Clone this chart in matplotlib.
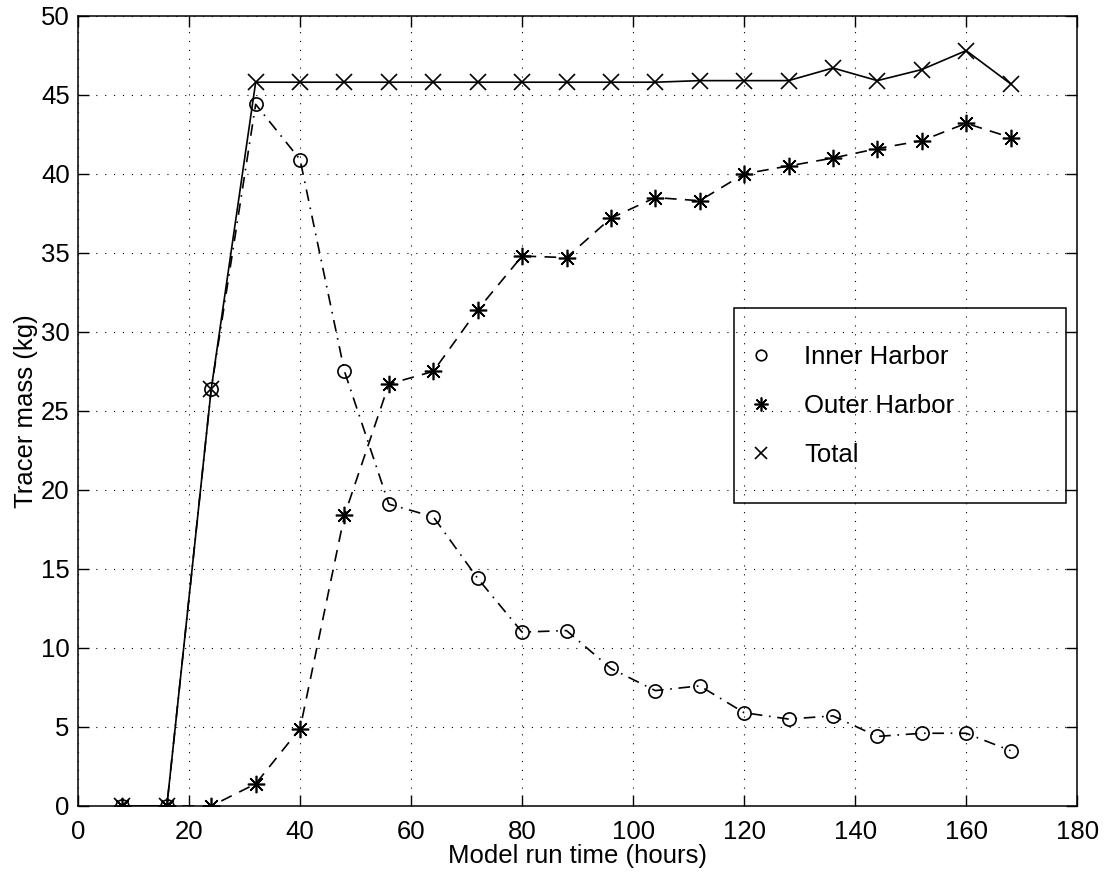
import matplotlib.pyplot as plt
from matplotlib.patches import Rectangle

plt.rcParams['font.family'] = ['Liberation Sans', 'DejaVu Sans']

# model run time (hours)
hours = [8, 16, 24, 32, 40, 48, 56, 64, 72, 80, 88, 96, 104, 112, 120, 128, 136, 144, 152, 160, 168]

# tracer mass (kg)
inner = [0, 0, 26.4, 44.4, 40.9, 27.5, 19.1, 18.3, 14.4, 11.0, 11.1, 8.7, 7.3, 7.6,
         5.9, 5.5, 5.7, 4.4, 4.6, 4.6, 3.5]
outer = [0, 0, 0, 1.4, 4.9, 18.4, 26.7, 27.5, 31.4, 34.8, 34.7, 37.2, 38.5, 38.3,
         40.0, 40.5, 41.0, 41.6, 42.1, 43.2, 42.3]
total = [0, 0, 26.4, 45.8, 45.8, 45.8, 45.8, 45.8, 45.8, 45.8, 45.8, 45.8, 45.8, 45.9,
         45.9, 45.9, 46.7, 45.9, 46.6, 47.8, 45.7]

series_labels = ['Inner Harbor', 'Outer Harbor', 'Total']

fig = plt.figure(figsize=(11.04, 8.75), dpi=100)
ax = fig.add_axes([0.0707, 0.0789, 0.905, 0.903])

# lines
ax.plot(hours, inner, color='black', linestyle='-.', dashes=(7, 4, 1, 4), linewidth=1.2)
ax.plot(hours, outer, color='black', linestyle='--', dashes=(7, 5), linewidth=1.2)
ax.plot(hours, total, color='black', linestyle='-', linewidth=1.2)

# markers
h1, = ax.plot(hours, inner, linestyle='none', marker='o', markersize=9.5,
              markerfacecolor='none', markeredgecolor='black', markeredgewidth=1.2)
h2, = ax.plot(hours, outer, linestyle='none', marker=(8, 2, 0), markersize=12.5,
              markeredgecolor='black', markeredgewidth=1.2)
h3, = ax.plot(hours, total, linestyle='none', marker='x', markersize=11,
              markeredgecolor='black', markeredgewidth=1.2)

ax.set_xlim(0, 180)
ax.set_ylim(0, 50)
ax.set_xticks(range(0, 181, 20))
ax.set_yticks(range(0, 51, 5))
ax.grid(True, color='black', linestyle=(0, (1, 7)), linewidth=0.8)
ax.tick_params(direction='in', length=8, width=1, top=True, right=True, labelsize=18.5)
ax.tick_params(axis='x', pad=10)
ax.tick_params(axis='y', pad=6)
for s in ax.spines.values():
    s.set_linewidth(1.1)

ax.set_xlabel('Model run time (hours)', fontsize=18.5, labelpad=0)
ax.set_ylabel('Tracer mass (kg)', fontsize=18.5, labelpad=2)

# legend box drawn separately so the grid shows through like the original
ax.add_patch(Rectangle((0.657, 0.384), 0.332, 0.246, transform=ax.transAxes,
                       facecolor='none', edgecolor='black', linewidth=1.1, zorder=5))
leg = ax.legend([h1, h2, h3], series_labels, loc='center left',
                bbox_to_anchor=(0.6575, 0.506), frameon=False,
                fontsize=18.5, borderpad=0, labelspacing=0.98, handlelength=1.0,
                handletextpad=1.2, markerscale=0.8)

plt.savefig('out.png', dpi=100)
